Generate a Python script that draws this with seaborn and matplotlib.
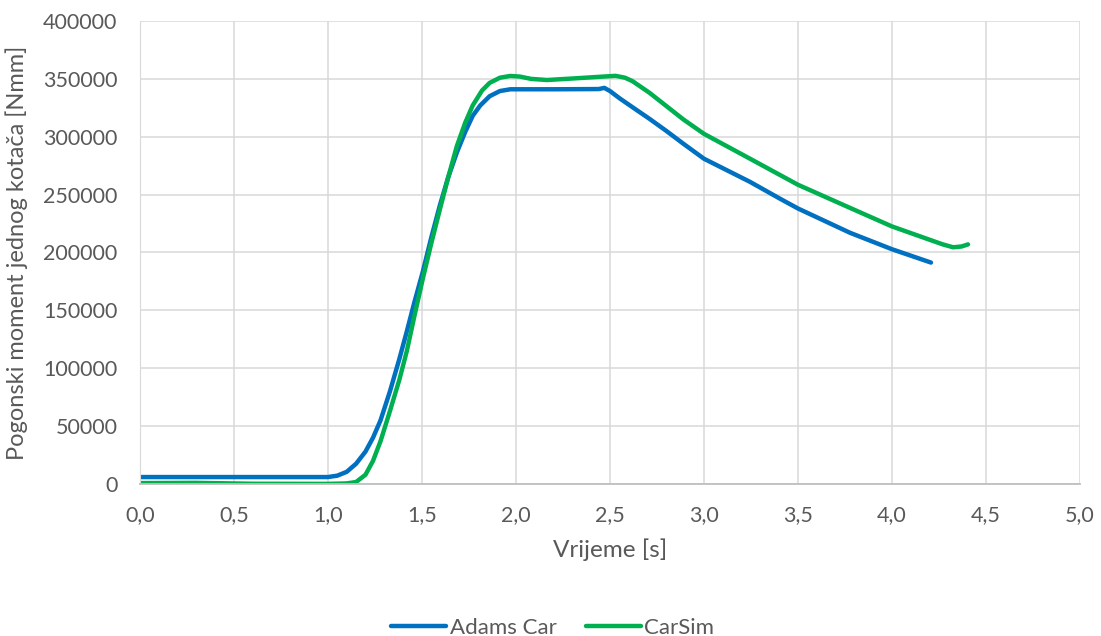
import numpy as np
import matplotlib.pyplot as plt
import seaborn as sns
import pandas as pd
from matplotlib.ticker import FuncFormatter, MultipleLocator

# Adams Car - time [s] and wheel torque [Nmm]
adams_t = [0.0, 0.5, 1.0, 1.05, 1.1, 1.15, 1.2, 1.24, 1.28, 1.33, 1.38, 1.42, 1.46,
           1.505, 1.55, 1.596, 1.64, 1.686, 1.73, 1.77, 1.81, 1.86, 1.915, 1.97,
           2.2, 2.44, 2.47, 2.5, 2.553, 2.62, 2.71, 2.80, 2.89, 3.0, 3.245, 3.404,
           3.5, 3.777, 4.0, 4.207]
adams_m = [6000, 6000, 6000, 7200, 10500, 17500, 28000, 40000, 55000, 80000, 108000,
           132000, 157000, 183500, 213000, 241000, 265000, 286500, 304000, 318000,
           327000, 335000, 339500, 341000, 341000, 341200, 342200, 339500, 333000,
           325500, 315500, 305000, 294000, 281000, 261000, 246500, 238000, 217000,
           202800, 191300]

# CarSim
carsim_t = [0.0, 0.3, 0.6, 1.0, 1.1, 1.15, 1.2, 1.24, 1.28, 1.33, 1.38, 1.42, 1.46,
            1.505, 1.55, 1.596, 1.64, 1.686, 1.73, 1.77, 1.82, 1.86, 1.915, 1.97,
            2.02, 2.08, 2.165, 2.3, 2.447, 2.53, 2.58, 2.62, 2.71, 2.80, 2.89, 3.0,
            3.245, 3.5, 3.777, 4.0, 4.2, 4.27, 4.325, 4.37, 4.404]
carsim_m = [800, 1000, 200, 100, 500, 1700, 8000, 20000, 37000, 63000, 90000, 115000,
            145000, 177500, 208000, 237500, 265000, 292000, 312000, 327000, 340000,
            346500, 351000, 352500, 352000, 350000, 349000, 350300, 351800, 352600,
            351000, 348000, 338000, 326500, 315000, 302500, 281000, 258500, 238500,
            222500, 211000, 207000, 204500, 205200, 207000]

df = pd.concat([
    pd.DataFrame({"t": adams_t, "m": adams_m, "model": "Adams Car"}),
    pd.DataFrame({"t": carsim_t, "m": carsim_m, "model": "CarSim"}),
])

sns.set_style("white")
plt.rcParams['font.family'] = ['Lato', 'DejaVu Sans']
grey = '#595959'

fig = plt.figure(figsize=(11.01, 6.36), dpi=100)
ax = fig.add_axes([0.127, 0.239, 0.854, 0.728])

sns.lineplot(data=df, x="t", y="m", hue="model", sort=False, estimator=None,
             palette={"Adams Car": "#0070C0", "CarSim": "#00B050"},
             linewidth=3.2, ax=ax, legend=False)
for ln in ax.lines:
    ln.set_solid_joinstyle('round')
    ln.set_solid_capstyle('round')

ax.set_xlim(0, 5)
ax.set_ylim(0, 400000)
ax.xaxis.set_major_locator(MultipleLocator(0.5))
ax.yaxis.set_major_locator(MultipleLocator(50000))
ax.xaxis.set_major_formatter(FuncFormatter(lambda v, p: f"{v:.1f}".replace('.', ',')))
ax.yaxis.set_major_formatter(FuncFormatter(lambda v, p: f"{int(v)}"))

ax.grid(True, color='#D9D9D9', linewidth=1.1)
ax.set_axisbelow(True)
for s in ['top', 'right']:
    ax.spines[s].set_visible(False)
ax.spines['left'].set_color('#D9D9D9')
ax.spines['bottom'].set_color('#BFBFBF')
ax.spines['bottom'].set_linewidth(1.3)
ax.tick_params(axis='both', length=0, labelsize=15.5, colors=grey)
ax.tick_params(axis='x', pad=15)
ax.tick_params(axis='y', pad=16)

ax.set_xlabel("Vrijeme [s]", fontsize=17.5, color=grey, labelpad=10)
ax.set_ylabel("Pogonski moment jednog kotača [Nmm]", fontsize=17, color=grey, labelpad=11)

handles = [plt.Line2D([], [], color="#0070C0", lw=3.2),
           plt.Line2D([], [], color="#00B050", lw=3.2)]
fig.legend(handles, ["Adams Car", "CarSim"], loc='lower center',
           bbox_to_anchor=(0.502, -0.034), ncol=2, frameon=False, fontsize=16,
           labelcolor=grey, handlelength=2.5, handletextpad=0.15, columnspacing=1.3)

plt.savefig("out.png", dpi=100)
